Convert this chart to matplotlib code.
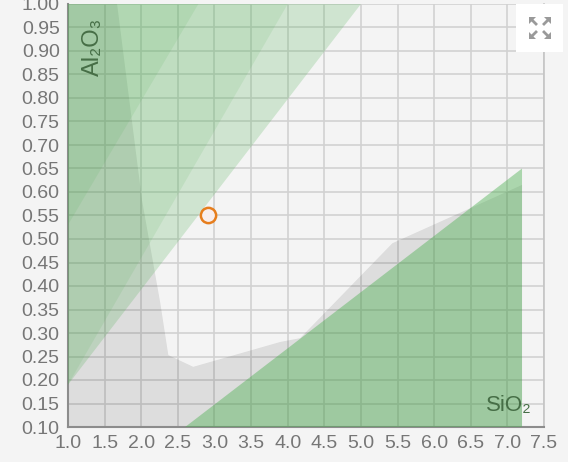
import matplotlib
matplotlib.use('Agg')
import matplotlib.pyplot as plt
from matplotlib.patches import Polygon, Rectangle
from matplotlib.lines import Line2D

plt.rcParams['font.family'] = ['Liberation Sans', 'DejaVu Sans']

# regions (SiO2, Al2O3)
gray_x = [1.0, 1.0, 1.67, 2.01, 2.26, 2.37, 2.71, 3.90, 4.17, 5.43, 7.2, 7.2]
gray_y = [0.10, 1.0, 1.0, 0.583, 0.364, 0.253, 0.228, 0.281, 0.289, 0.491, 0.615, 0.10]

wide_x = [1.0, 5.0, 1.0]
wide_y = [0.19, 1.0, 1.0]
mid_x = [1.0, 4.0, 1.0]
mid_y = [0.19, 1.0, 1.0]
narrow_x = [1.0, 2.78, 1.0]
narrow_y = [0.53, 1.0, 1.0]

craze_x = [2.6, 7.2, 7.2]
craze_y = [0.10, 0.65, 0.10]

point_x = [2.91]
point_y = [0.55]

xticks = [1.0, 1.5, 2.0, 2.5, 3.0, 3.5, 4.0, 4.5, 5.0, 5.5, 6.0, 6.5, 7.0, 7.5]
yticks = [0.10, 0.15, 0.20, 0.25, 0.30, 0.35, 0.40, 0.45, 0.50, 0.55,
          0.60, 0.65, 0.70, 0.75, 0.80, 0.85, 0.90, 0.95, 1.00]

W, H = 568, 462
fig = plt.figure(figsize=(W / 100, H / 100), dpi=100, facecolor='#f4f4f4')
ax = fig.add_axes([68 / W, 35 / H, 476 / W, 423 / H])
ax.set_facecolor('#f4f4f4')

green = '#4caf50'
ax.add_patch(Polygon(list(zip(gray_x, gray_y)), closed=True, fc='black', alpha=0.095, lw=0, zorder=2))
ax.add_patch(Polygon(list(zip(wide_x, wide_y)), closed=True, fc=green, alpha=0.22, lw=0, zorder=3))
ax.add_patch(Polygon(list(zip(mid_x, mid_y)), closed=True, fc=green, alpha=0.12, lw=0, zorder=3))
ax.add_patch(Polygon(list(zip(narrow_x, narrow_y)), closed=True, fc=green, alpha=0.12, lw=0, zorder=3))
ax.add_patch(Polygon(list(zip(craze_x, craze_y)), closed=True, fc=green, alpha=0.43, lw=0, zorder=3))

ax.plot(point_x, point_y, 'o', ms=11, mfc='#f8eeee', mec='#e67e1e', mew=1.8, zorder=5)

ax.set_xlim(1.0, 7.5)
ax.set_ylim(0.10, 1.00)
ax.set_xticks(xticks)
ax.set_yticks(yticks)
ax.set_xticklabels([f'{v:.1f}' for v in xticks])
ax.set_yticklabels([f'{v:.2f}' for v in yticks])
ax.tick_params(length=0, pad=6, labelsize=14, colors='#767676')
ax.grid(True, color='#d2d2d2', lw=1.2, zorder=1)
ax.set_axisbelow(True)

for s in ['left', 'bottom']:
    ax.spines[s].set_color('#8c8c8c')
    ax.spines[s].set_linewidth(1.5)
ax.spines['right'].set_color('#c4c4c4')
ax.spines['right'].set_linewidth(1.2)
ax.spines['top'].set_visible(False)

ax.text(0.975, 0.025, 'SiO₂', transform=ax.transAxes, ha='right', va='bottom',
        fontsize=16, color='#466e46', zorder=6)
ax.text(0.052, 0.968, 'Al₂O₃', transform=ax.transAxes, ha='center', va='top',
        rotation=90, fontsize=17, color='#466e46', zorder=6)

# expand button in the corner
def fx(px):
    return px / W

def fy(py):
    return 1 - py / H

fig.add_artist(Rectangle((fx(516), fy(52)), fx(563) - fx(516), fy(4) - fy(52),
                         transform=fig.transFigure, fc='white', ec='none'))
cx, cy = 540, 28
for dx, dy in [(-1, -1), (1, -1), (-1, 1), (1, 1)]:
    tipx, tipy = cx + dx * 11, cy + dy * 11
    fig.add_artist(Line2D([fx(cx + dx * 4), fx(tipx - dx * 2)], [fy(cy + dy * 4), fy(tipy - dy * 2)],
                          transform=fig.transFigure, color='#9a9a9a', lw=2))
    fig.add_artist(Polygon([(fx(tipx), fy(tipy)), (fx(tipx - dx * 7), fy(tipy)), (fx(tipx), fy(tipy - dy * 7))],
                           closed=True, transform=fig.transFigure, fc='#9a9a9a', ec='none'))

fig.savefig('out.png', dpi=100, facecolor='#f4f4f4')
